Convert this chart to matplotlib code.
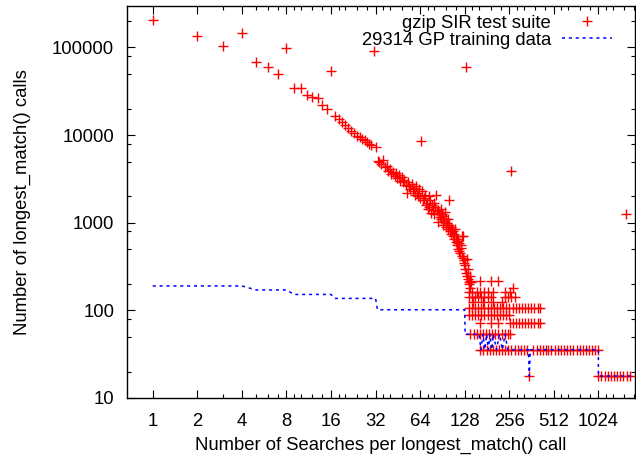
import matplotlib
matplotlib.use('Agg')
import matplotlib.pyplot as plt
from matplotlib.ticker import FixedLocator, FixedFormatter, NullFormatter

plt.rcParams['font.family'] = ['Liberation Sans', 'DejaVu Sans']

# gzip SIR test suite: searches per call (x) vs number of calls (y), up to x=142
sir_x = [1, 2, 3, 4, 5, 6, 7, 8, 9, 10, 11, 12, 13, 14, 15, 16, 17, 18, 19, 20,
         21, 22, 23, 24, 25, 26, 27, 28, 29, 30, 31, 32, 33, 34, 35, 36, 37, 38, 39, 40,
         41, 42, 43, 44, 45, 46, 47, 48, 49, 50, 51, 52, 53, 54, 55, 56, 57, 58, 59, 60,
         61, 62, 63, 64, 65, 66, 67, 68, 69, 70, 71, 72, 73, 74, 75, 76, 77, 78, 79, 80,
         81, 82, 83, 84, 85, 86, 87, 88, 89, 90, 91, 92, 93, 94, 95, 96, 97, 98, 99, 100,
         101, 102, 103, 104, 105, 106, 107, 108, 109, 110, 111, 112, 113, 114, 115, 116, 117, 118, 119, 120,
         121, 122, 123, 124, 125, 126, 127, 128, 129, 130, 131, 132, 133, 134, 135, 136, 137, 138, 139, 140,
         142, 263, 1575]
sir_y = [205000, 136000, 104000, 145000, 69000, 60500, 50000, 99500, 34800, 34800,
         28500, 27400, 26200, 22300, 19700, 53700, 16600, 15200, 14200, 13000,
         12100, 11200, 10700, 9800, 9500, 9000, 8700, 8300, 8000, 7700,
         91000, 7400, 5100, 4900, 4700, 5200, 4300, 4500, 3900, 4100,
         3600, 3800, 3400, 3700, 3200, 3500, 3000, 3300, 2900, 3100,
         2700, 2200, 2900, 2600, 2400, 2800, 2300, 2500, 2100, 2600,
         2200, 2000, 2400, 1900, 8500, 2300, 1800, 1900, 2100, 1600,
         1700, 1450, 2000, 1500, 1800, 1300, 1600, 1400, 1700, 1250,
         1500, 2050, 1350, 1380, 1020, 1300, 1150, 1450, 1100, 1250,
         950, 1200, 1050, 1330, 900, 1100, 1000, 850, 1110, 1800,
         950, 800, 900, 750, 850, 700, 800, 650, 750, 850,
         600, 700, 550, 650, 620, 500, 580, 480, 450, 520,
         550, 420, 700, 400, 715, 380, 350, 330, 300, 60000,
         270, 250, 385, 230, 295, 210, 200, 180, 250, 215,
         210, 3850, 1250]

# beyond x=128 the counts fall on multiples of one unit
unit = 17.8
lvl_12 = [163, 192, 216]
lvl_10 = [273]
lvl_9 = [136, 143, 155, 163, 173, 185, 200, 240, 259]
lvl_8 = [136, 143, 150, 158, 166, 174, 183, 192, 240, 252, 265, 280]
lvl_7 = [145, 170, 200, 230]
lvl_6 = [136, 143, 150, 158, 166, 174, 183, 192, 201, 211, 222, 233, 245, 257, 270,
         283, 297, 312, 328, 344, 361, 379, 398, 414]
lvl_5 = [136, 143, 150, 158, 166, 174, 183, 192, 201, 211, 222, 233, 245, 257]
lvl_4 = [163, 192, 216, 259, 270, 283, 297, 312, 328, 344, 361, 379, 398, 414]
lvl_3 = [140, 147, 154, 162, 170, 178, 187, 196, 206, 216, 227, 238, 250, 260]
lvl_2 = [163, 171, 180, 189, 198, 208, 218, 229, 240, 252, 265, 278, 292, 307, 322,
         338, 372, 392, 411, 432, 454, 470, 493, 518, 544, 571, 600, 630, 661, 694,
         729, 765, 803, 843, 885, 929, 975, 1020]
lvl_1 = [350, 1024, 1075, 1130, 1185, 1245, 1307, 1372, 1440, 1512, 1588, 1667]
levels = {12: lvl_12, 10: lvl_10, 9: lvl_9, 8: lvl_8, 7: lvl_7, 6: lvl_6,
          5: lvl_5, 4: lvl_4, 3: lvl_3, 2: lvl_2, 1: lvl_1}

# GP training data (line vertices)
gp_x = [1, 4, 5, 8, 9, 16, 17, 32, 33, 128, 129, 160, 165, 170, 175, 180, 185, 190,
        195, 200, 210, 220, 230, 240, 250, 266, 345, 350, 355, 1024, 1025, 1700]
gp_y = [190, 190, 171, 171, 152, 152, 137, 137, 101.6, 101.6, 53.4, 53.4, 35.6, 53.4,
        35.6, 53.4, 35.6, 53.4, 35.6, 53.4, 35.6, 53.4, 35.6, 53.4, 35.6, 35.6, 35.6,
        17.8, 35.6, 35.6, 17.8, 17.8]

red_x = list(sir_x)
red_y = list(sir_y)
for k, xs in levels.items():
    red_x += xs
    red_y += [k * unit] * len(xs)

fig = plt.figure(figsize=(6.36, 4.59), dpi=100)
ax = fig.add_axes([0.1992, 0.1329, 0.7992, 0.8547])

ax.plot(red_x, red_y, '+', color='red', ms=6.5, mew=1.0, label='gzip SIR test suite')
ax.plot(gp_x, gp_y, color='blue', lw=1.1, dashes=(2, 2.5), label='29314 GP training data')

ax.set_xscale('log', base=2)
ax.set_yscale('log')
ax.set_xlim(0.667, 1810)
ax.set_ylim(10, 3.0e5)

xmaj = [2 ** i for i in range(11)]
ax.xaxis.set_major_locator(FixedLocator(xmaj))
ax.xaxis.set_major_formatter(FixedFormatter([str(v) for v in xmaj]))
xmin = []
for i in range(1, 11):
    b = 2 ** i
    subs = [1.5] if i == 1 else ([1.25, 1.5, 1.75] if i == 2 else [1.125, 1.25, 1.5, 1.75])
    xmin += [b * s for s in subs]
ax.xaxis.set_minor_locator(FixedLocator(xmin))
ax.xaxis.set_minor_formatter(NullFormatter())

ymaj = [10, 100, 1000, 10000, 100000]
ax.yaxis.set_major_locator(FixedLocator(ymaj))
ax.yaxis.set_major_formatter(FixedFormatter([str(v) for v in ymaj]))
ymin = [10 ** e * s for e in range(1, 6) for s in (2, 5, 8)]
ax.yaxis.set_minor_locator(FixedLocator(ymin))
ax.yaxis.set_minor_formatter(NullFormatter())

ax.tick_params(which='both', direction='in', top=True, right=True, width=0.8,
               labelsize=13.3, colors='black')
ax.tick_params(which='major', length=6)
ax.tick_params(which='minor', length=3)
ax.tick_params(axis='y', pad=9)
ax.tick_params(axis='x', pad=11)
for s in ax.spines.values():
    s.set_linewidth(1.0)

ax.set_xlabel('Number of Searches per longest_match() call', fontsize=13.3, labelpad=5)
ax.set_ylabel('Number of longest_match() calls', fontsize=13.3, labelpad=15)

ax.legend(loc='upper right', bbox_to_anchor=(0.955, 0.977), frameon=False,
          markerfirst=False, fontsize=13.3, handlelength=2.7, handletextpad=0.6,
          borderpad=0, borderaxespad=0, labelspacing=0.0)

fig.savefig('out.png', dpi=100)
